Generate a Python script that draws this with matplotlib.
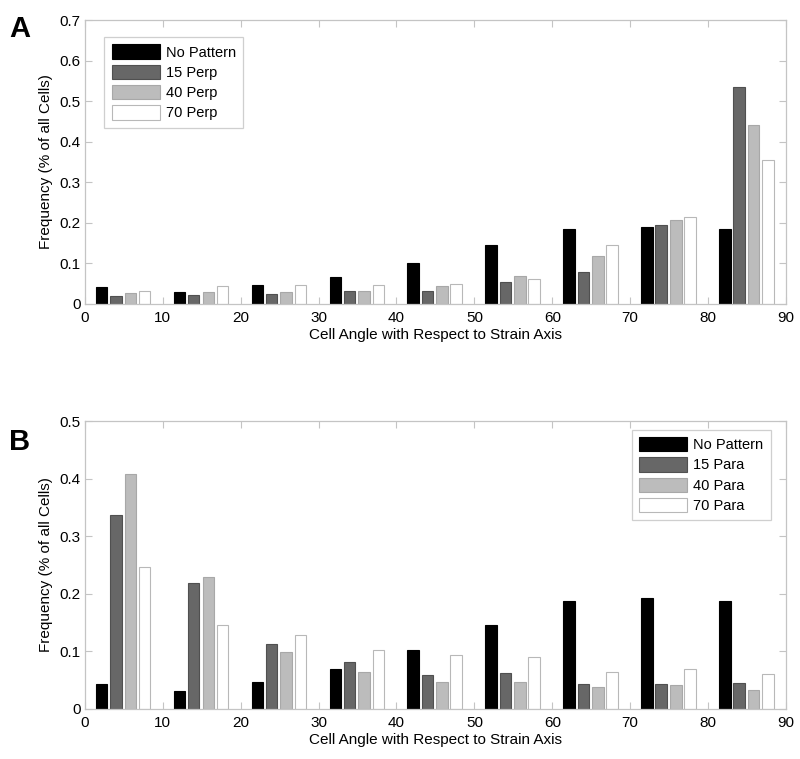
import numpy as np
import matplotlib
matplotlib.use('Agg')
import matplotlib.pyplot as plt

plt.rcParams['font.family'] = ['Liberation Sans', 'DejaVu Sans']

# angle bins (left edge of each 10 degree bin)
bins = np.arange(0, 90, 10)

# panel A: perpendicular patterns
no_pattern_a = [0.041, 0.030, 0.046, 0.067, 0.100, 0.145, 0.184, 0.189, 0.184]
perp15 = [0.020, 0.022, 0.025, 0.033, 0.033, 0.055, 0.080, 0.195, 0.535]
perp40 = [0.028, 0.030, 0.030, 0.033, 0.045, 0.069, 0.118, 0.207, 0.441]
perp70 = [0.033, 0.045, 0.047, 0.047, 0.050, 0.062, 0.145, 0.215, 0.356]
labels_a = ['No Pattern', '15 Perp', '40 Perp', '70 Perp']

# panel B: parallel patterns
no_pattern_b = [0.043, 0.031, 0.047, 0.069, 0.103, 0.145, 0.187, 0.192, 0.187]
para15 = [0.336, 0.218, 0.113, 0.081, 0.059, 0.063, 0.043, 0.043, 0.045]
para40 = [0.408, 0.229, 0.099, 0.064, 0.047, 0.047, 0.038, 0.042, 0.033]
para70 = [0.246, 0.145, 0.129, 0.103, 0.093, 0.091, 0.065, 0.069, 0.061]
labels_b = ['No Pattern', '15 Para', '40 Para', '70 Para']

fills = ['#000000', '#676767', '#bcbcbc', '#ffffff']
edges = ['#000000', '#505050', '#a8a8a8', '#b8b8b8']
offsets = [2.15, 3.98, 5.85, 7.67]
width = 1.48
frame = '#c4c4c4'


def draw_panel(ax, series, labels, ymax, legend_loc, legend_anchor):
    for i, vals in enumerate(series):
        ax.bar(bins + offsets[i], vals, width=width, color=fills[i],
               edgecolor=edges[i], linewidth=0.8, label=labels[i])
    ax.set_xlim(0, 90)
    ax.set_ylim(0, ymax)
    ax.set_xticks(np.arange(0, 91, 10))
    ax.set_yticks(np.arange(0, ymax + 0.001, 0.1))
    ax.set_yticklabels(['0'] + ['%.1f' % v for v in np.arange(0.1, ymax + 0.001, 0.1)])
    for s in ax.spines.values():
        s.set_color(frame)
        s.set_linewidth(0.9)
    ax.tick_params(direction='in', top=True, right=True, color=frame,
                   length=5, labelsize=11)
    ax.tick_params(axis='x', pad=5)
    ax.tick_params(axis='y', pad=3)
    ax.set_xlabel('Cell Angle with Respect to Strain Axis', fontsize=11, labelpad=2)
    ax.set_ylabel('Frequency (% of all Cells)', fontsize=11, labelpad=5)
    leg = ax.legend(loc=legend_loc, bbox_to_anchor=legend_anchor, fontsize=10.5,
                    fancybox=False, handlelength=3.3, handleheight=1.15,
                    handletextpad=0.4, labelspacing=0.35, borderpad=0.5,
                    borderaxespad=0)
    leg.get_frame().set_edgecolor(frame)
    leg.get_frame().set_linewidth(0.9)


fig = plt.figure(figsize=(8, 7.59), dpi=100)
ax1 = fig.add_axes([0.106, 0.5995, 0.8765, 0.374])
ax2 = fig.add_axes([0.106, 0.0659, 0.8765, 0.3794])

draw_panel(ax1, [no_pattern_a, perp15, perp40, perp70], labels_a, 0.7,
           'upper left', (0.028, 0.94))
draw_panel(ax2, [no_pattern_b, para15, para40, para70], labels_b, 0.5,
           'upper right', (0.978, 0.97))

fig.text(0.011, 0.962, 'A', fontsize=21, fontweight='bold', va='center')
fig.text(0.011, 0.417, 'B', fontsize=21, fontweight='bold', va='center')

fig.savefig('out.png', dpi=100)
